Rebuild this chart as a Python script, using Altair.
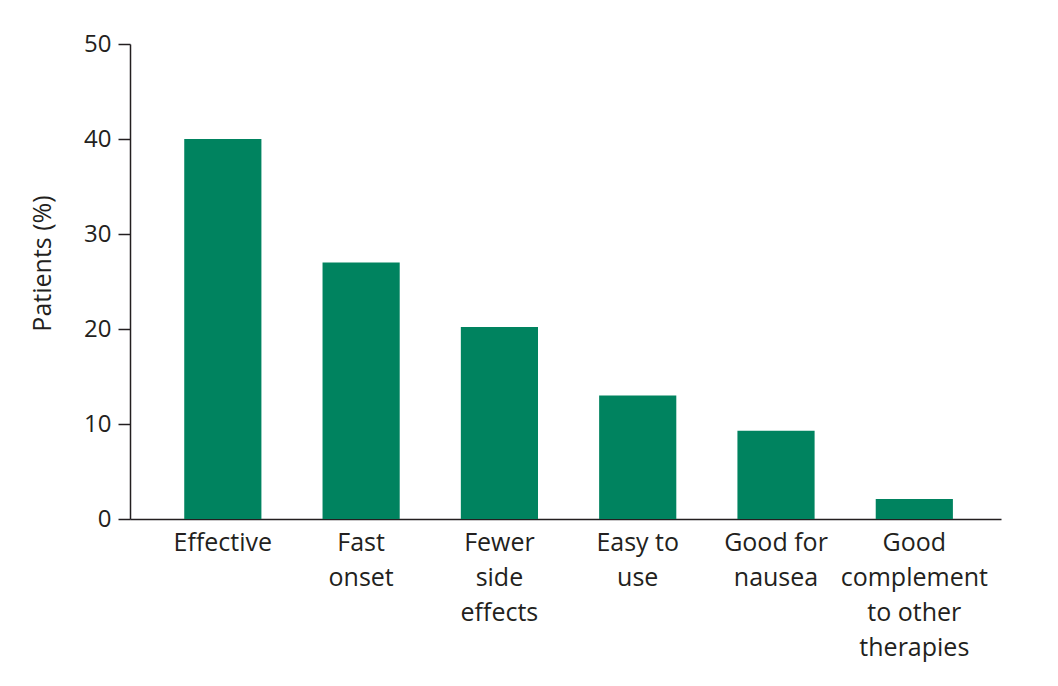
import altair as alt
import pandas as pd

categories = ["Effective", "Fast onset", "Fewer side effects", "Easy to use",
              "Good for nausea", "Good complement to other therapies"]
label_lines = ["Effective", "Fast|onset", "Fewer|side|effects", "Easy to|use",
               "Good for|nausea", "Good|complement|to other|therapies"]
values = [40, 27, 20.2, 13, 9.3, 2.1]
y_ticks = [0, 10, 20, 30, 40, 50]

df = pd.DataFrame({"category": categories, "value": values})

expr = ""
for c, l in zip(categories, label_lines):
    expr += f"datum.label == '{c}' ? split('{l}', '|') : "
expr += "datum.label"

FONT = "Open Sans"
INK = "#231f20"

chart = alt.Chart(df).mark_bar(color="#00835F").encode(
    x=alt.X("category:N", sort=categories,
            scale=alt.Scale(paddingInner=0.442, paddingOuter=0.37, align=0.53),
            axis=alt.Axis(title=None, labelAngle=0, ticks=False, labelExpr=expr,
                          labelFontSize=25, labelFont=FONT, labelColor=INK,
                          labelLineHeight=35, labelPadding=11,
                          domainColor=INK, domainWidth=1.5,
                          labelBaseline="top")),
    y=alt.Y("value:Q", scale=alt.Scale(domain=[0, 50], nice=False),
            axis=alt.Axis(title="Patients (%)", values=y_ticks, grid=False,
                          tickSize=12, tickColor=INK, tickWidth=1.5,
                          domainColor=INK, domainWidth=1.5,
                          labelFontSize=24, labelFont=FONT, labelColor=INK,
                          labelPadding=7,
                          titleFontSize=25, titleFont=FONT, titleFontWeight="normal",
                          titleColor=INK, titleX=-88, titleY=219,
                          titleBaseline="middle")),
).properties(
    width=871, height=475,
    padding={"left": 22, "top": 24, "right": 5, "bottom": 5},
).configure_view(stroke=None)

chart.save("out.html", embed_options={"renderer": "svg", "actions": False})
